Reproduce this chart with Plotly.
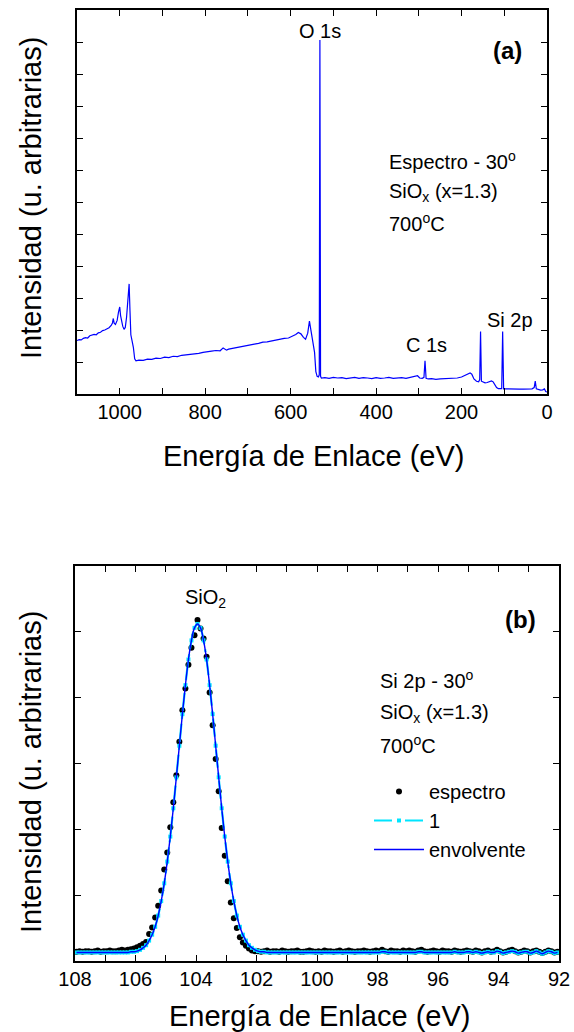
import numpy as np
import plotly.graph_objects as go

# ---------------- Survey spectrum (panel a) ----------------
be_survey = [
    1100, 1095, 1090, 1085, 1080, 1075, 1070, 1065, 1060, 1055, 1050, 1045, 1040, 1035,
    1030, 1025, 1020, 1017, 1015, 1013, 1010, 1006, 1003, 1000, 998, 996, 993, 990, 987,
    984, 981, 978, 976, 974, 971, 968, 965, 962,
    955, 945, 935, 925, 915, 905, 895, 885, 875, 865, 855, 845, 835, 825, 815, 805, 795,
    785, 775, 765, 758, 750, 745, 735, 725, 715, 705, 695, 685, 675, 665, 655, 645, 635,
    625, 615, 605, 595, 588, 582, 576, 570, 565, 560, 556, 552, 547, 544, 541, 538, 535,
    533, 531.5, 530, 528,
    520, 510, 500, 490, 480, 470, 460, 450, 440, 430, 420, 410, 400, 390, 380, 370, 360,
    350, 340, 330, 320, 310, 303, 298, 292, 288, 285.5, 283, 278, 270, 260, 250, 240, 230,
    220, 210, 200, 193, 186, 180, 176, 171, 165, 160, 157.5, 155.5, 153.5, 150, 145, 140,
    135, 130, 126, 122, 118, 114, 110, 106, 103.8, 101.5, 95, 85, 75, 65, 55, 45, 35, 30,
    27.5, 25, 20, 15, 10, 6, 3, 0,
]
int_survey = [
    1.67, 1.70, 1.69, 1.74, 1.76, 1.75, 1.82, 1.84, 1.86, 1.85, 1.91, 1.93, 1.98, 2.00,
    2.04, 2.07, 2.14, 2.22, 2.36, 2.21, 2.17, 2.30, 2.55, 2.72, 2.45, 2.30, 2.12, 2.02, 2.08,
    2.40, 3.10, 3.44, 2.60, 1.85, 1.65, 1.45, 1.10, 1.04,
    1.06, 1.05, 1.09, 1.08, 1.12, 1.11, 1.15, 1.14, 1.18, 1.17, 1.21, 1.22, 1.24, 1.26, 1.27,
    1.30, 1.31, 1.34, 1.36, 1.35, 1.44, 1.37, 1.40, 1.43, 1.45, 1.49, 1.50, 1.53, 1.56, 1.58,
    1.62, 1.63, 1.66, 1.69, 1.70, 1.74, 1.75, 1.80, 1.86, 1.92, 1.88, 1.77, 1.71, 1.90, 2.28,
    1.95, 1.60, 1.30, 0.70, 0.55, 0.53, 0.60, 11.06, 0.55, 0.50,
    0.51, 0.49, 0.52, 0.50, 0.51, 0.48, 0.50, 0.52, 0.49, 0.51, 0.50, 0.48, 0.51, 0.49, 0.50,
    0.52, 0.49, 0.50, 0.51, 0.49, 0.52, 0.53, 0.57, 0.50, 0.49, 0.52, 1.04, 0.49, 0.47, 0.48,
    0.46, 0.47, 0.48, 0.47, 0.49, 0.50, 0.53, 0.57, 0.62, 0.66, 0.62, 0.47, 0.40, 0.38, 0.45,
    1.95, 0.40, 0.37, 0.35, 0.36, 0.38, 0.41, 0.38, 0.27, 0.20, 0.17, 0.16, 0.17, 1.95, 0.16,
    0.16, 0.15, 0.16, 0.15, 0.15, 0.16, 0.16, 0.20, 0.40, 0.16, 0.13, 0.12, 0.13, 0.16, 0.08,
    0.06,
]

# ---------------- Si 2p high-resolution spectrum (panel b) ----------------
# Sampling every 0.1 eV from 107.95 eV down to 92.05 eV
be_si2p = np.round(107.95 - 0.1 * np.arange(160), 2)

espectro = [
    # 107.95 ... 106.05
    0.14, 0.15, 0.14, 0.15, 0.15, 0.14, 0.15, 0.16, 0.14, 0.15,
    0.15, 0.16, 0.15, 0.15, 0.16, 0.17, 0.16, 0.17, 0.18, 0.19,
    # 105.95 ... 102.05
    0.21, 0.23, 0.26, 0.29, 0.41, 0.51, 0.66, 0.84, 1.07, 1.39,
    1.65, 2.03, 2.41, 2.82, 3.33, 3.81, 4.14, 4.50, 4.76, 4.95,
    5.18, 5.05, 4.90, 4.62, 4.08, 3.58, 3.07, 2.58, 2.02, 1.60,
    1.21, 0.89, 0.65, 0.50, 0.36, 0.28, 0.23, 0.19, 0.16, 0.15,
    # 101.95 ... 92.05
    0.15, 0.14, 0.15, 0.16, 0.14, 0.15, 0.15, 0.14, 0.16, 0.15,
    0.14, 0.15, 0.15, 0.16, 0.14, 0.14, 0.15, 0.16, 0.15, 0.14,
    0.15, 0.14, 0.16, 0.15, 0.15, 0.14, 0.15, 0.16, 0.14, 0.15,
    0.16, 0.15, 0.14, 0.15, 0.15, 0.16, 0.15, 0.14, 0.15, 0.16,
    0.15, 0.17, 0.15, 0.14, 0.16, 0.15, 0.15, 0.14, 0.16, 0.15,
    0.16, 0.15, 0.14, 0.16, 0.17, 0.15, 0.14, 0.15, 0.16, 0.15,
    0.14, 0.16, 0.15, 0.15, 0.14, 0.16, 0.15, 0.14, 0.15, 0.16,
    0.15, 0.14, 0.16, 0.15, 0.13, 0.15, 0.16, 0.14, 0.15, 0.17,
    0.15, 0.13, 0.14, 0.16, 0.17, 0.15, 0.13, 0.14, 0.16, 0.15,
    0.13, 0.15, 0.16, 0.14, 0.12, 0.14, 0.16, 0.15, 0.13, 0.14,
]

envolvente = [
    # 107.95 ... 106.05
    0.13, 0.13, 0.13, 0.13, 0.13, 0.13, 0.13, 0.13, 0.13, 0.13,
    0.13, 0.13, 0.13, 0.13, 0.13, 0.13, 0.13, 0.13, 0.14, 0.14,
    # 105.95 ... 102.05
    0.15, 0.17, 0.20, 0.24, 0.31, 0.40, 0.52, 0.69, 0.91, 1.18,
    1.51, 1.89, 2.32, 2.79, 3.27, 3.75, 4.19, 4.58, 4.87, 5.06,
    5.12, 5.06, 4.87, 4.58, 4.19, 3.75, 3.27, 2.79, 2.32, 1.89,
    1.51, 1.18, 0.91, 0.69, 0.52, 0.40, 0.31, 0.24, 0.20, 0.17,
    # 101.95 ... 92.05
    0.15, 0.14, 0.14, 0.13, 0.13, 0.13, 0.13, 0.13, 0.13, 0.13,
    0.13, 0.13, 0.13, 0.13, 0.13, 0.13, 0.13, 0.13, 0.13, 0.13,
    0.13, 0.13, 0.13, 0.13, 0.13, 0.13, 0.13, 0.13, 0.13, 0.13,
    0.13, 0.13, 0.13, 0.13, 0.13, 0.13, 0.13, 0.13, 0.13, 0.13,
    0.13, 0.14, 0.14, 0.13, 0.13, 0.13, 0.13, 0.13, 0.13, 0.13,
    0.13, 0.13, 0.13, 0.14, 0.14, 0.13, 0.13, 0.13, 0.13, 0.13,
    0.13, 0.13, 0.13, 0.13, 0.13, 0.14, 0.13, 0.13, 0.13, 0.14,
    0.14, 0.13, 0.14, 0.13, 0.12, 0.13, 0.14, 0.13, 0.13, 0.15,
    0.14, 0.12, 0.13, 0.14, 0.15, 0.14, 0.12, 0.13, 0.14, 0.14,
    0.12, 0.13, 0.15, 0.13, 0.11, 0.13, 0.15, 0.14, 0.12, 0.13,
]
# single-component fit: component 1 follows the envelope
componente_1 = list(envolvente)

# ---------------- Layout helpers (pixel -> paper) ----------------
W, H = 574, 1032


def fx(x):
    return x / W


def fy(y):
    return 1 - y / H


FONT = "Liberation Sans, Arial, Helvetica, sans-serif"
BLUE = "#0000ff"
CYAN = "#00e5ff"

fig = go.Figure()

fig.add_trace(go.Scatter(
    x=be_survey, y=int_survey, mode="lines",
    line=dict(color=BLUE, width=1.2),
    xaxis="x", yaxis="y", showlegend=False, hoverinfo="skip",
))

fig.add_trace(go.Scatter(
    x=be_si2p, y=espectro, mode="markers", name="espectro",
    marker=dict(color="black", size=6, symbol="circle"),
    xaxis="x2", yaxis="y2",
))
fig.add_trace(go.Scatter(
    x=be_si2p, y=componente_1, mode="lines+markers", name="1",
    line=dict(color=CYAN, width=2.2, dash="18px,5px,3px,5px", shape="spline"),
    marker=dict(color=CYAN, size=4, symbol="square"),
    xaxis="x2", yaxis="y2",
))
fig.add_trace(go.Scatter(
    x=be_si2p, y=envolvente, mode="lines", name="envolvente",
    line=dict(color=BLUE, width=1.4, shape="spline"),
    xaxis="x2", yaxis="y2",
))

axis_common = dict(
    showline=True, linecolor="black", linewidth=1.6, mirror="ticks",
    ticks="inside", ticklen=6, tickwidth=1.4, tickcolor="black",
    showgrid=False, zeroline=False, automargin=False,
    tickfont=dict(family=FONT, size=20, color="black"),
)

survey_ticks = list(range(0, 1001, 100))
si2p_ticks = list(range(92, 109))

fig.update_layout(
    width=W, height=H,
    margin=dict(l=0, r=0, t=0, b=0, autoexpand=False),
    paper_bgcolor="white", plot_bgcolor="white",
    font=dict(family=FONT, size=20, color="black"),
    xaxis=dict(
        axis_common, domain=[fx(77), fx(547)], range=[1100, 0], anchor="y",
        tickvals=survey_ticks,
        ticktext=[str(v) if v % 200 == 0 else "" for v in survey_ticks],
        ticklabelstandoff=-1,
    ),
    yaxis=dict(
        axis_common, domain=[fy(394), fy(10)], range=[0, 12], anchor="x",
        tickvals=list(range(1, 12)), showticklabels=False,
    ),
    xaxis2=dict(
        axis_common, domain=[fx(75), fx(559)], range=[108, 92], anchor="y2",
        tickvals=si2p_ticks,
        ticktext=[str(v) if v % 2 == 0 else "" for v in si2p_ticks],
        ticklabelstandoff=-1,
    ),
    yaxis2=dict(
        axis_common, domain=[fy(961), fy(566)], range=[0, 6], anchor="x2",
        tickvals=list(range(1, 6)), showticklabels=False,
    ),
    legend=dict(
        x=fx(369), y=fy(772), xanchor="left", yanchor="top",
        bgcolor="rgba(0,0,0,0)", borderwidth=0,
        font=dict(family=FONT, size=20, color="black"),
        itemwidth=50, tracegroupgap=0,
    ),
)

annotations = []


def note(text, x, y, size=20, xanchor="center", yanchor="middle", angle=0, bold=False):
    if bold:
        text = "<b>" + text + "</b>"
    annotations.append(dict(
        text=text, x=fx(x), y=fy(y), xref="paper", yref="paper",
        xanchor=xanchor, yanchor=yanchor, showarrow=False, textangle=angle,
        font=dict(family=FONT, size=size, color="black"),
    ))


# axis titles
note("Energía de Enlace (eV)", 313, 456, size=29)
note("Energía de Enlace (eV)", 319, 1016, size=29)
note("Intensidad (u. arbitrarias)", 31, 198, size=29, angle=-90)
note("Intensidad (u. arbitrarias)", 31, 772, size=29, angle=-90)

# panel (a)
note("O 1s", 320, 31)
note("C 1s", 426, 345)
note("Si 2p", 510, 320)
note("(a)", 508, 51, size=24, bold=True)
note("Espectro - 30<sup>o</sup>", 387, 160, xanchor="left")
note("SiO<sub>x</sub> (x=1.3)", 387, 192, xanchor="left")
note("700<sup>o</sup>C", 387, 223, xanchor="left")

# panel (b)
note("SiO<sub>2</sub>", 205, 598)
note("(b)", 520, 619, size=24, bold=True)
note("Si 2p - 30<sup>o</sup>", 378, 679, xanchor="left")
note("SiO<sub>x</sub> (x=1.3)", 378, 713, xanchor="left")
note("700<sup>o</sup>C", 378, 744, xanchor="left")

fig.update_layout(annotations=annotations)

fig.write_html("out.html")
